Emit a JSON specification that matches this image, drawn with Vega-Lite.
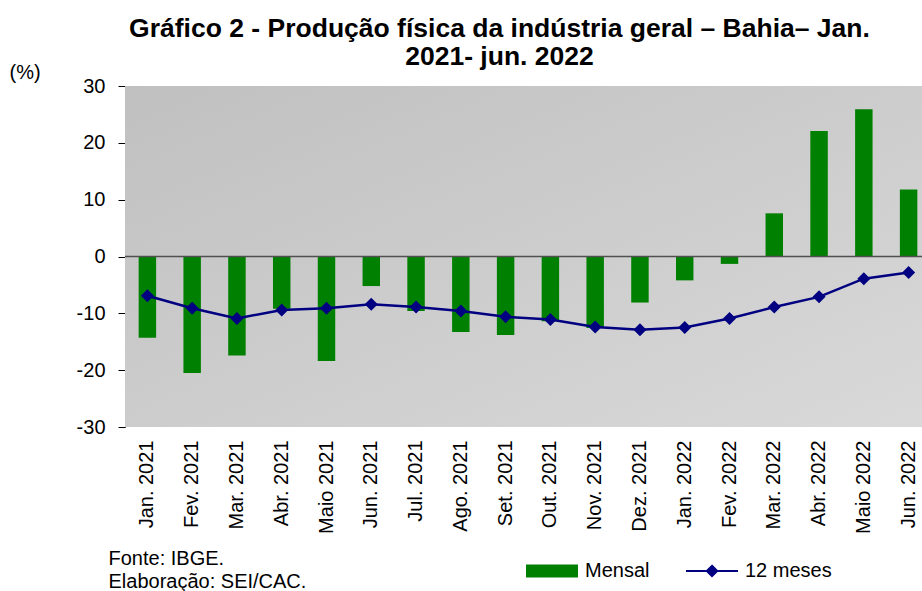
{
  "$schema": "https://vega.github.io/schema/vega-lite/v6.json",
  "width": 797,
  "height": 341,
  "autosize": {"type": "none"},
  "padding": {"left": 125, "top": 86, "right": 0, "bottom": 164},
  "background": "#ffffff",
  "config": {
    "font": "Liberation Sans",
    "view": {"stroke": null},
    "axis": {"labelFont": "Liberation Sans", "titleFont": "Liberation Sans", "labelColor": "#000000", "titleColor": "#000000"}
  },
  "title": {
    "text": ["Gráfico 2 - Produção física da indústria geral – Bahia– Jan.", "2021- jun. 2022"],
    "fontSize": 26.5,
    "fontWeight": "bold",
    "font": "Liberation Sans",
    "color": "#000000",
    "anchor": "middle",
    "frame": "group",
    "dx": -24,
    "dy": 12,
    "lineHeight": 28,
    "offset": 4
  },
  "data": {
    "values": [
      {"mes": "Jan. 2021", "mensal": -14.3, "doze": -6.9},
      {"mes": "Fev. 2021", "mensal": -20.5, "doze": -9.1},
      {"mes": "Mar. 2021", "mensal": -17.4, "doze": -10.9},
      {"mes": "Abr. 2021", "mensal": -9.2, "doze": -9.4},
      {"mes": "Maio 2021", "mensal": -18.4, "doze": -9.1},
      {"mes": "Jun. 2021", "mensal": -5.2, "doze": -8.4},
      {"mes": "Jul. 2021", "mensal": -9.6, "doze": -8.9},
      {"mes": "Ago. 2021", "mensal": -13.3, "doze": -9.6},
      {"mes": "Set. 2021", "mensal": -13.8, "doze": -10.6},
      {"mes": "Out. 2021", "mensal": -11.4, "doze": -11.1},
      {"mes": "Nov. 2021", "mensal": -12.6, "doze": -12.4},
      {"mes": "Dez. 2021", "mensal": -8.1, "doze": -12.9},
      {"mes": "Jan. 2022", "mensal": -4.2, "doze": -12.5},
      {"mes": "Fev. 2022", "mensal": -1.3, "doze": -10.9},
      {"mes": "Mar. 2022", "mensal": 7.6, "doze": -8.9},
      {"mes": "Abr. 2022", "mensal": 22.1, "doze": -7.1},
      {"mes": "Maio 2022", "mensal": 25.9, "doze": -3.9},
      {"mes": "Jun. 2022", "mensal": 11.8, "doze": -2.8}
    ]
  },
  "layer": [
    {
      "data": {"values": [{}]},
      "mark": {
        "type": "rect",
        "color": {
          "gradient": "linear",
          "x1": 0, "y1": 0, "x2": 1, "y2": 1,
          "stops": [{"offset": 0, "color": "#c0c0c0"}, {"offset": 1, "color": "#d9d9d9"}]
        }
      },
      "encoding": {
        "y": {"datum": 30, "type": "quantitative", "scale": {"domain": [-30, 30]}},
        "y2": {"datum": -30}
      }
    },
    {
      "mark": {"type": "bar", "color": "#008000", "width": {"band": 0.39}},
      "encoding": {
        "x": {
          "field": "mes", "type": "nominal", "sort": null,
          "scale": {"range": [0, 806], "paddingInner": 0, "paddingOuter": 0},
          "axis": {
            "labelAngle": -90, "labelFontSize": 20, "labelPadding": 13,
            "ticks": false, "tickSize": 0, "domain": false,
            "title": ["Fonte: IBGE.", "Elaboração: SEI/CAC."],
            "titleFontSize": 20, "titleFontWeight": "normal",
            "titleAngle": 0, "titleAlign": "left", "titleBaseline": "top",
            "titleAnchor": "start", "titleX": -17, "titleY": 121, "titleLineHeight": 23
          }
        },
        "y": {
          "field": "mensal", "type": "quantitative",
          "scale": {"domain": [-30, 30], "nice": false},
          "axis": {
            "values": [-30, -20, -10, 0, 10, 20, 30],
            "labelExpr": "'' + datum.value",
            "grid": false, "domainColor": "#000000", "tickColor": "#000000",
            "tickSize": 7, "labelFontSize": 20, "labelPadding": 13,
            "title": "(%)", "titleFontSize": 20, "titleFontWeight": "normal",
            "titleAngle": 0, "titleAlign": "left", "titleBaseline": "alphabetic",
            "titleX": -116, "titleY": -8
          }
        },
        "color": {
          "datum": "Mensal",
          "scale": {"domain": ["Mensal", "12 meses"], "range": ["#008000", "#000080"]},
          "legend": {
            "title": null, "orient": "none", "direction": "horizontal",
            "legendX": 417, "legendY": 475,
            "labelFontSize": 20, "labelFont": "Liberation Sans", "labelColor": "#000000",
            "symbolSize": 2704, "labelOffset": 23, "columnPadding": 32,
            "encode": {
              "symbols": {
                "update": {
                  "shape": {"signal": "datum.value === 'Mensal' ? 'M-1,-0.25H1V0.25H-1Z' : 'M-1,0H1M0,-0.2L0.2,0L0,0.2L-0.2,0Z'"},
                  "fill": {"signal": "datum.value === 'Mensal' ? '#008000' : '#000080'"},
                  "stroke": {"signal": "datum.value === 'Mensal' ? '#008000' : '#000080'"},
                  "strokeWidth": {"signal": "datum.value === 'Mensal' ? 0 : 2"},
                  "opacity": {"value": 1},
                  "fillOpacity": {"value": 1},
                  "strokeOpacity": {"value": 1}
                }
              }
            }
          }
        }
      }
    },
    {
      "mark": {"type": "rule", "color": "#505050", "strokeWidth": 1.5},
      "data": {"values": [{}]},
      "encoding": {"y": {"datum": 0, "type": "quantitative"}}
    },
    {
      "mark": {"type": "line", "strokeWidth": 2.5, "point": {"shape": "diamond", "size": 169, "filled": true, "opacity": 1}},
      "encoding": {
        "x": {
          "field": "mes", "type": "nominal", "sort": null,
          "axis": {
            "orient": "bottom", "offset": -176.5, "labels": false, "domain": false,
            "ticks": true, "tickSize": 12, "tickColor": "#303030", "tickBand": "extent",
            "title": null
          }
        },
        "y": {"field": "doze", "type": "quantitative"},
        "color": {"datum": "12 meses"}
      }
    }
  ],
  "resolve": {"axis": {"x": "independent"}}
}
